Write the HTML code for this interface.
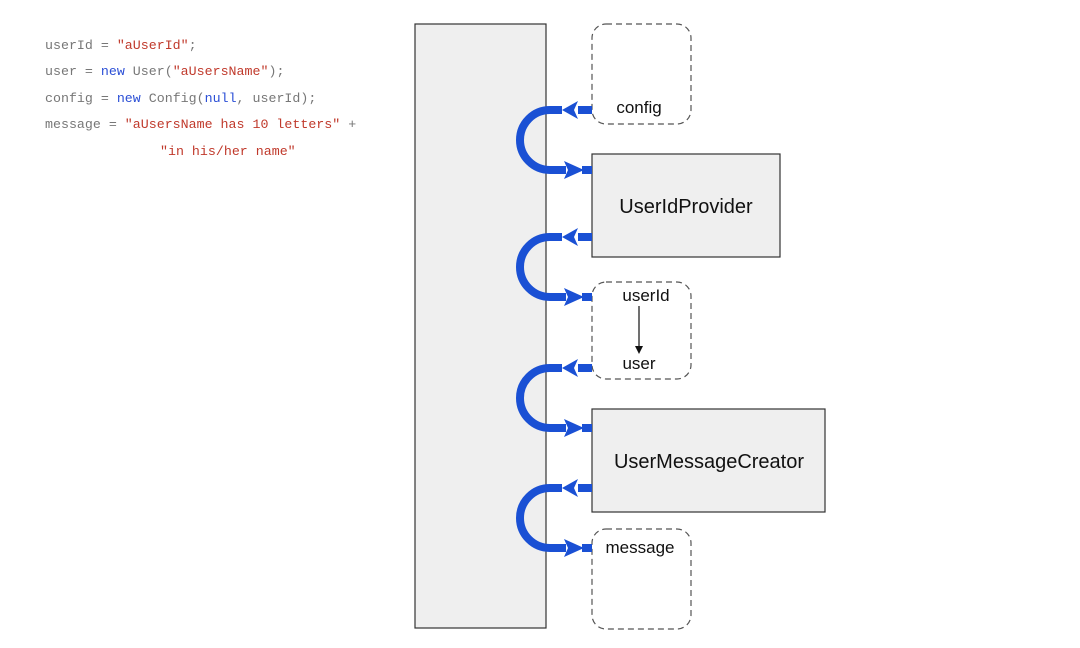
<!DOCTYPE html>
<html><head><meta charset="utf-8"><style>
body{margin:0;background:#fff;width:1080px;height:643px;overflow:hidden}
</style></head><body>
<svg width="1080" height="643" viewBox="0 0 1080 643" xmlns="http://www.w3.org/2000/svg">
<g font-family="Liberation Mono, monospace" font-size="13.3" fill="#777">
<text x="45" y="49">userId = <tspan fill="#c0392b">"aUserId"</tspan>;</text>
<text x="45" y="75">user = <tspan fill="#2b4fd6">new</tspan> User(<tspan fill="#c0392b">"aUsersName"</tspan>);</text>
<text x="45" y="102">config = <tspan fill="#2b4fd6">new</tspan> Config(<tspan fill="#2b4fd6">null</tspan>, userId);</text>
<text x="45" y="128">message = <tspan fill="#c0392b">"aUsersName has 10 letters"</tspan> +</text>
<text x="160" y="155" fill="#c0392b">"in his/her name"</text>
</g>
<rect x="415" y="24" width="131" height="604" fill="#efefef" stroke="#333" stroke-width="1.2"/>
<g fill="#fff" stroke="#555" stroke-width="1.2" stroke-dasharray="6,4">
<rect x="592" y="24" width="99" height="100" rx="14"/>
<rect x="592" y="282" width="99" height="97" rx="14"/>
<rect x="592" y="529" width="99" height="100" rx="14"/>
</g>
<rect x="592" y="154" width="188" height="103" fill="#efefef" stroke="#333" stroke-width="1.2"/>
<rect x="592" y="409" width="233" height="103" fill="#efefef" stroke="#333" stroke-width="1.2"/>
<g font-family="Liberation Sans, sans-serif" fill="#111">
<text x="639" y="113" font-size="17" text-anchor="middle">config</text>
<text x="686" y="213" font-size="20" text-anchor="middle">UserIdProvider</text>
<text x="646" y="301" font-size="17" text-anchor="middle">userId</text>
<text x="639" y="369" font-size="17" text-anchor="middle">user</text>
<text x="709" y="468" font-size="20" text-anchor="middle">UserMessageCreator</text>
<text x="640" y="553" font-size="17" text-anchor="middle">message</text>
</g>
<line x1="639" y1="306" x2="639" y2="348" stroke="#111" stroke-width="1.2"/>
<polygon points="635,346 643,346 639,354" fill="#111"/>
<defs>
<g id="arc">
<path d="M562 0 H550 A30 30 0 0 0 550 60 H566" fill="none" stroke="#1a50d4" stroke-width="8"/>
<rect x="578" y="-4" width="14" height="8" fill="#1a50d4"/>
<polygon points="562,0 578,-9 574,0 578,9" fill="#1a50d4"/>
<polygon points="564,51 584,60 564,69 568,60" fill="#1a50d4"/>
<rect x="582" y="56" width="10" height="8" fill="#1a50d4"/>
</g>
</defs>
<use href="#arc" transform="translate(0,110)"/>
<use href="#arc" transform="translate(0,237)"/>
<use href="#arc" transform="translate(0,368)"/>
<use href="#arc" transform="translate(0,488)"/>
</svg>
</body></html>
